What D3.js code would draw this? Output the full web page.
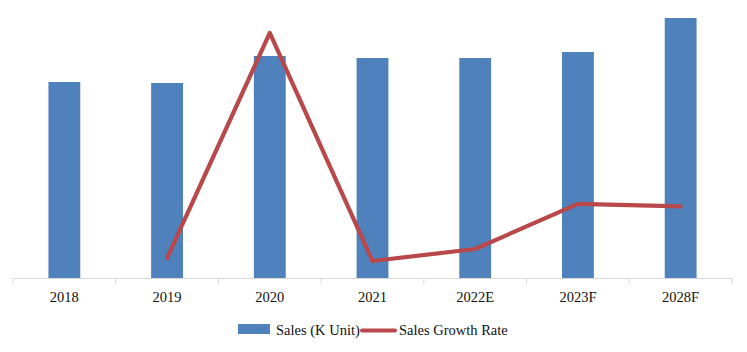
<!DOCTYPE html>
<html>
<head>
<meta charset="utf-8">
<script src="https://cdn.jsdelivr.net/npm/d3@7"></script>
<style>
  body { margin: 0; background: #fff; }
  svg { display: block; }
  svg text { font-family: "Times New Roman", "Liberation Serif", Tinos, "DejaVu Serif", serif !important; fill: #111; }
</style>
</head>
<body>
<div id="chart"></div>
<script>
const width = 747,
      height = 352;

// data
const years = ['2018', '2019', '2020', '2021', '2022E', '2023F', '2028F'];
const sales = [1960, 1950, 2220, 2200, 2200, 2260, 2600];           // K units
const growthYears = ['2019', '2020', '2021', '2022E', '2023F', '2028F'];
const growth = [-0.45, 13.8, -0.64, 0.12, 2.98, 2.82];             // %

const legendItems = ['Sales (K Unit)', 'Sales Growth Rate'];

const barColor = '#4f81bd',
      lineColor = '#b8484a';

const baseY = 278;
const fontSize = '14.5px';

const svg = d3.select('#chart').append('svg')
  .attr('width', width)
  .attr('height', height);

const x = d3.scaleBand()
  .domain(years)
  .range([13, 732]);

const barW = x.bandwidth() * 0.31;

const ySales = d3.scaleLinear()
  .domain([0, 2600])
  .range([baseY, 18]);

const yGrowth = d3.scaleLinear()
  .domain([-2, 15])
  .range([282.5, 13.9]);

// bars
svg.append('g')
  .selectAll('rect')
  .data(years.map((y, i) => ({ year: y, v: sales[i] })))
  .join('rect')
  .attr('x', d => x(d.year) + x.bandwidth() / 2 - barW / 2)
  .attr('y', d => ySales(d.v))
  .attr('width', barW)
  .attr('height', d => baseY - ySales(d.v))
  .attr('fill', barColor);

// x axis
const axis = svg.append('g')
  .attr('transform', `translate(0,${baseY})`)
  .call(d3.axisBottom(x).tickSize(0).tickPadding(13.5));
axis.attr('font-family', null).attr('font-size', null);
axis.select('.domain').attr('stroke', '#d9d9d9').attr('stroke-width', 1);
axis.selectAll('text')
  .style('font-size', fontSize)
  .attr('fill', '#111');

// band boundary ticks
svg.append('g')
  .selectAll('line')
  .data(years.map(y => x(y)).concat([x.range()[1]]))
  .join('line')
  .attr('x1', d => d).attr('x2', d => d)
  .attr('y1', baseY).attr('y2', baseY + 6)
  .attr('stroke', '#d9d9d9');

// growth line
const line = d3.line()
  .x((d, i) => x(growthYears[i]) + x.bandwidth() / 2)
  .y(d => yGrowth(d));

svg.append('path')
  .datum(growth)
  .attr('d', line)
  .attr('fill', 'none')
  .attr('stroke', lineColor)
  .attr('stroke-width', 4.2)
  .attr('stroke-linejoin', 'round')
  .attr('stroke-linecap', 'round');

// legend
const leg = svg.append('g');
leg.append('rect')
  .attr('x', 238).attr('y', 324)
  .attr('width', 32).attr('height', 10)
  .attr('fill', barColor);
leg.append('text')
  .attr('x', 276).attr('y', 335)
  .style('font-size', fontSize)
  .text(legendItems[0]);
leg.append('line')
  .attr('x1', 362).attr('x2', 395)
  .attr('y1', 330.5).attr('y2', 330.5)
  .attr('stroke', lineColor)
  .attr('stroke-width', 4)
  .attr('stroke-linecap', 'round');
leg.append('text')
  .attr('x', 399).attr('y', 335)
  .style('font-size', fontSize)
  .text(legendItems[1]);
</script>
</body>
</html>
